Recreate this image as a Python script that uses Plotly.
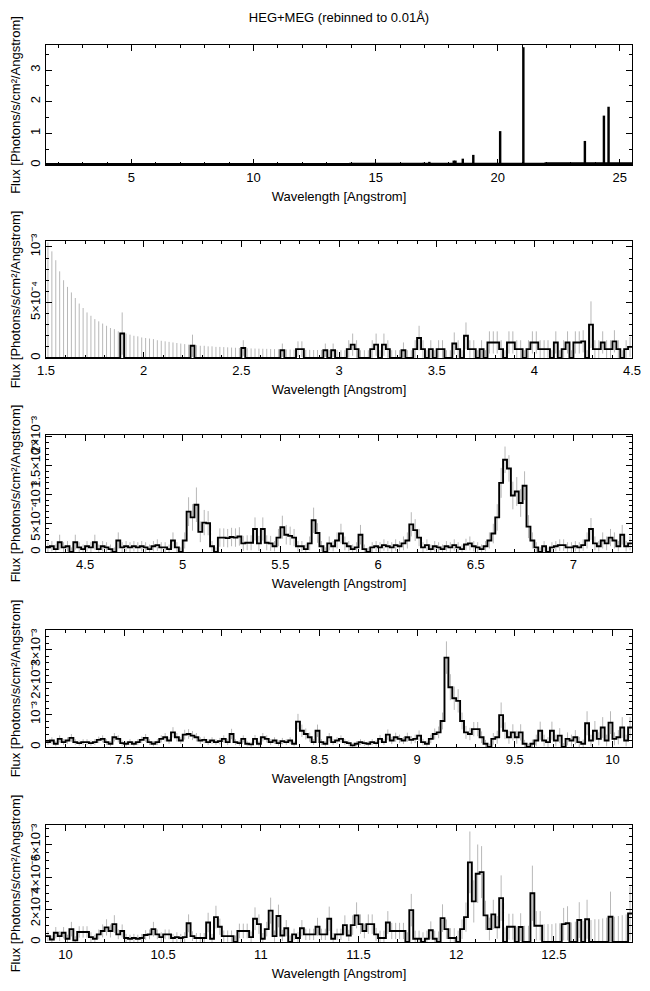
import numpy as np
import plotly.graph_objects as go
from plotly.subplots import make_subplots

BIN = 0.02  # bin width (Angstrom) used for the zoomed panels

# ---- panel 1: whole band, strongest lines (photons/s/cm2/A)
line_wave = [16.83, 16.97, 17.2, 18.2, 18.27, 18.57, 19.0, 20.1, 21.05, 23.57, 24.35, 24.54]
line_flux = [0.06, 0.07, 0.1, 0.14, 0.14, 0.2, 0.32, 1.07, 3.72, 0.76, 1.56, 1.84]
cont_wave = [1.5, 6.0, 10.0, 14.0, 18.0, 22.0, 25.5]
cont_flux = [0.002, 0.001, 0.003, 0.005, 0.01, 0.02, 0.02]

# ---- zoomed panels: flux and upper error per bin, in units of 1e-4
flux_2 = [0, 0, 0, 0, 0, 0, 0, 0, 0, 0,
          0, 0, 0, 0, 0, 0, 0, 0, 0, 2.2,
          0, 0, 0, 0, 0, 0, 0, 0, 0, 0,
          0, 0, 0, 0, 0, 0, 0, 1.1, 0, 0,
          0, 0, 0, 0, 0, 0, 0, 0, 0, 0,
          0.9, 0, 0, 0, 0, 0, 0, 0, 0, 0,
          0.7, 0, 0, 0, 0.8, 0.8, 0, 0, 0, 0,
          0, 0.7, 0, 0.7, 0, 0, 0, 0.8, 1.2, 0.8,
          0, 0, 0, 0.8, 1.2, 0, 1.2, 0.8, 0, 0,
          0, 0.7, 0, 0, 0.8, 1.8, 0.8, 0, 0.8, 0,
          0.8, 0.8, 0, 0, 1.3, 0.8, 0, 2.0, 0.8, 0.8,
          0, 0.8, 0, 1.4, 1.4, 1.4, 0.8, 0, 1.4, 1.4,
          0.8, 0.8, 0, 0.8, 1.4, 1.4, 0.8, 0.8, 0.8, 0,
          1.4, 0, 0.8, 1.4, 0, 1.4, 1.4, 1.5, 0, 3.0,
          0.8, 0.8, 1.4, 0.8, 0.8, 1.5, 0.8, 0, 0.8, 1.0]
err_2 = [10.4, 9.6, 8.8, 7.8, 7.0, 6.4, 5.9, 5.4, 4.9, 4.5,
         4.1, 3.8, 3.5, 3.3, 3.1, 2.9, 2.7, 2.6, 2.4, 1.9,
         2.2, 2.1, 2.0, 1.95, 1.85, 1.8, 1.75, 1.7, 1.6, 1.55,
         1.5, 1.45, 1.4, 1.35, 1.3, 1.25, 1.2, 1.0, 1.15, 1.1,
         1.1, 1.05, 1.05, 1.0, 1.0, 0.98, 0.96, 0.94, 0.92, 0.9,
         0.7, 0.88, 0.86, 0.85, 0.84, 0.83, 0.82, 0.81, 0.8, 0.79,
         0.6, 0.77, 0.76, 0.75, 0.7, 0.7, 0.73, 0.73, 0.72, 0.72,
         0.72, 0.6, 0.71, 0.6, 0.71, 0.7, 0.7, 0.8, 1.0, 0.8,
         0.7, 0.7, 0.7, 0.8, 1.0, 0.7, 1.0, 0.8, 0.7, 0.7,
         0.7, 0.7, 0.7, 0.7, 0.8, 1.1, 0.8, 0.7, 0.8, 0.7,
         0.8, 0.8, 0.7, 0.7, 1.0, 0.8, 0.7, 1.2, 0.8, 0.8,
         0.7, 0.8, 0.7, 1.0, 1.0, 1.0, 0.8, 0.7, 1.0, 1.0,
         0.8, 0.8, 0.7, 0.8, 1.0, 1.0, 0.8, 0.8, 0.8, 0.7,
         1.0, 0.7, 0.8, 1.0, 0.7, 1.0, 1.0, 1.0, 0.7, 2.1,
         0.8, 0.8, 1.0, 0.8, 0.8, 1.0, 0.8, 0.7, 0.8, 0.9]

flux_3 = [0.8, 1.0, 0.5, 1.7, 0.8, 1.0, 0, 1.7, 0.8, 0.5,
          1.0, 0.8, 1.7, 0.5, 1.0, 0.8, 0.5, 0, 2.0, 0.8,
          1.0, 0.8, 1.0, 0.8, 1.0, 0.8, 0.5, 1.0, 1.2, 0.8,
          0.8, 0.5, 2.0, 0.8, 0, 2.0, 7.0, 6.0, 8.2, 3.5,
          5.1, 5.0, 1.0, 0, 2.5, 2.5, 2.4, 2.6, 2.5, 2.7,
          1.5, 1.6, 1.6, 4.0, 1.5, 4.0, 1.6, 1.5, 1.0, 2.5,
          4.3, 3.0, 2.8, 2.5, 1.0, 1.0, 0.5, 1.5, 5.5, 3.3,
          1.0, 0, 1.5, 1.0, 2.0, 3.2, 1.5, 1.0, 0.5, 0.8,
          3.0, 0.5, 0, 0.8, 1.0, 0.8, 1.2, 1.0, 0.8, 1.2,
          1.0, 1.5, 2.0, 4.8, 3.8, 2.5, 0.8, 1.2, 0.5, 1.0,
          0.8, 0.5, 1.0, 0.8, 1.2, 0.8, 0.5, 1.3, 1.5, 1.0,
          0.8, 0.5, 1.0, 2.0, 3.2, 6.0, 12.0, 16.0, 14.5, 9.8,
          10.5, 8.5, 11.5, 4.4, 2.0, 0.8, 0, 1.0, 0, 0.8,
          1.0, 1.2, 1.2, 0.8, 0.8, 1.0, 0.8, 1.2, 2.0, 4.0,
          1.5, 1.0, 2.0, 1.5, 2.5, 2.0, 1.0, 3.0, 1.0, 1.5]
err_3 = [0.9, 0.9, 0.8, 1.3, 0.9, 0.9, 0.8, 1.3, 0.9, 0.8,
         0.9, 0.9, 1.3, 0.8, 0.9, 0.9, 0.8, 0.8, 1.4, 0.9,
         0.9, 0.9, 0.9, 0.9, 0.9, 0.9, 0.8, 0.9, 1.0, 0.9,
         0.9, 0.8, 1.4, 0.9, 0.8, 1.4, 2.5, 2.3, 3.0, 1.8,
         2.2, 2.1, 0.9, 0.8, 1.6, 1.6, 1.6, 1.6, 1.6, 1.6,
         1.3, 1.3, 1.3, 2.0, 1.3, 2.0, 1.3, 1.3, 0.9, 1.5,
         2.0, 1.7, 1.6, 1.5, 0.9, 0.9, 0.8, 1.2, 2.2, 1.7,
         0.9, 0.8, 1.2, 0.9, 1.4, 1.7, 1.2, 0.9, 0.8, 0.9,
         1.7, 0.8, 0.8, 0.9, 0.9, 0.9, 1.0, 0.9, 0.9, 1.0,
         0.9, 1.2, 1.4, 2.1, 1.9, 1.5, 0.9, 1.0, 0.8, 0.9,
         0.9, 0.8, 0.9, 0.9, 1.0, 0.9, 0.8, 1.0, 1.2, 0.9,
         0.9, 0.8, 0.9, 1.4, 1.7, 2.3, 2.6, 2.3, 2.3, 2.4,
         2.5, 2.4, 2.5, 2.0, 1.4, 0.9, 0.8, 0.9, 0.8, 0.9,
         0.9, 1.0, 1.0, 0.9, 0.9, 0.9, 0.9, 1.0, 1.4, 1.9,
         1.2, 0.9, 1.4, 1.2, 1.5, 1.4, 0.9, 1.7, 0.9, 1.2]

flux_4 = [1.5, 2.0, 1.0, 2.5, 1.5, 2.0, 2.8, 1.5, 1.2, 1.5,
          1.5, 1.2, 1.5, 2.2, 2.5, 1.5, 1.0, 3.0, 2.5, 1.2,
          1.0, 1.5, 1.0, 1.5, 2.2, 2.8, 1.5, 1.0, 1.5, 2.5,
          3.0, 2.0, 4.5, 3.0, 2.0, 3.8, 4.0, 3.5, 3.0, 2.0,
          2.2, 1.5, 2.0, 1.5, 1.8, 2.5, 1.5, 4.0, 1.5, 1.2,
          2.5, 1.0, 0.8, 2.5, 1.0, 3.0, 2.5, 1.5, 2.0, 1.2,
          1.8, 1.5, 2.0, 1.0, 7.8, 5.0, 4.0, 3.0, 1.5, 5.0,
          1.5, 1.0, 3.0, 1.5, 2.0, 2.5, 1.5, 1.2, 0.5, 1.0,
          1.5, 1.2, 1.0, 1.5, 1.2, 2.5, 1.5, 3.8, 2.0, 3.0,
          2.5, 2.0, 3.0, 2.2, 2.5, 3.5, 1.5, 1.0, 2.5, 4.0,
          4.5, 8.0, 27.5, 18.4, 15.0, 14.2, 8.0, 4.5, 4.0, 5.5,
          5.5, 3.0, 1.0, 0, 2.5, 3.0, 9.8, 5.0, 3.0, 4.5,
          3.0, 4.5, 1.0, 0, 1.0, 2.0, 5.0, 2.0, 1.5, 5.0,
          2.0, 3.5, 0, 2.5, 2.0, 3.0, 1.5, 1.0, 7.3, 2.0,
          5.0, 2.5, 6.0, 2.0, 7.5, 2.5, 3.0, 6.0, 2.0, 6.0]
err_4 = [0.9, 1.0, 0.8, 1.1, 0.9, 1.0, 1.2, 0.9, 0.8, 0.9,
         0.9, 0.8, 0.9, 1.0, 1.1, 0.9, 0.8, 1.3, 1.1, 0.8,
         0.8, 0.9, 0.8, 0.9, 1.0, 1.2, 0.9, 0.8, 0.9, 1.1,
         1.3, 1.0, 1.6, 1.3, 1.0, 1.5, 1.5, 1.4, 1.3, 1.0,
         1.0, 0.9, 1.0, 0.9, 1.0, 1.1, 0.9, 1.6, 0.9, 0.8,
         1.1, 0.8, 0.8, 1.2, 0.8, 1.3, 1.1, 0.9, 1.0, 0.8,
         1.0, 0.9, 1.0, 0.8, 2.4, 1.9, 1.7, 1.4, 0.9, 1.9,
         0.9, 0.8, 1.3, 0.9, 1.0, 1.1, 0.9, 0.8, 0.7, 0.8,
         0.9, 0.8, 0.8, 0.9, 0.8, 1.2, 0.9, 1.6, 1.1, 1.4,
         1.3, 1.1, 1.4, 1.2, 1.3, 1.6, 1.0, 0.9, 1.3, 1.7,
         1.8, 2.6, 5.0, 4.0, 3.6, 3.6, 2.6, 2.0, 1.9, 2.2,
         2.2, 1.8, 1.2, 1.0, 1.8, 2.0, 3.9, 2.6, 2.0, 2.5,
         2.0, 2.5, 1.2, 1.0, 1.3, 1.8, 2.8, 1.8, 1.5, 2.8,
         1.8, 2.3, 1.2, 2.0, 1.8, 2.2, 1.6, 1.3, 3.7, 1.8,
         3.0, 2.0, 3.2, 1.8, 3.5, 2.0, 2.2, 3.2, 1.8, 3.2]

flux_5 = [3.6, 1.5, 5.7, 3.6, 5.7, 2.0, 7.9, 1.0, 6.2, 6.2,
          6.2, 3.0, 2.0, 4.7, 6.8, 9.0, 6.8, 11.0, 4.7, 6.8,
          2.5, 2.0, 2.5, 2.0, 2.5, 4.3, 4.7, 7.9, 4.7, 3.0,
          4.7, 4.7, 2.5, 3.0, 2.5, 3.0, 11.5, 3.6, 2.5, 2.5,
          2.5, 12.0, 2.0, 15.3, 9.4, 3.6, 3.6, 3.6, 0, 6.8,
          6.8, 6.8, 3.0, 14.3, 11.0, 2.0, 7.9, 19.3, 3.6, 16.0,
          4.0, 8.5, 0, 4.7, 2.5, 8.5, 4.7, 4.7, 4.7, 9.4,
          4.7, 4.7, 14.3, 2.0, 4.7, 4.7, 10.4, 4.0, 10.4, 16.4,
          11.0, 6.8, 11.0, 11.0, 4.7, 2.5, 2.5, 12.0, 6.8, 6.8,
          6.8, 6.8, 0, 19.6, 2.0, 2.0, 0, 2.0, 7.2, 2.0,
          0, 14.7, 7.9, 2.5, 2.5, 0, 7.9, 15.3, 49.0, 25.0,
          42.0, 43.0, 16.4, 8.0, 17.0, 9.0, 27.0, 0, 9.4, 9.4,
          0, 9.2, 0, 0, 30.0, 10.0, 10.0, 0, 0, 0,
          0, 0, 11.0, 11.5, 0, 0, 13.5, 0, 14.0, 0,
          0, 0, 0, 0, 15.5, 0, 0, 0, 0, 17.5]
err_5 = [3.0, 2.5, 3.5, 3.0, 3.5, 2.5, 4.5, 2.5, 3.5, 3.5,
         3.5, 3.0, 2.5, 3.0, 4.0, 5.0, 4.0, 5.5, 3.0, 4.0,
         2.5, 2.5, 2.5, 2.5, 2.5, 3.0, 3.0, 4.5, 3.0, 3.0,
         3.0, 3.0, 2.5, 3.0, 2.5, 3.0, 5.5, 3.0, 3.0, 3.0,
         3.0, 6.0, 3.0, 7.0, 5.0, 3.5, 3.5, 3.5, 4.0, 4.5,
         4.5, 4.5, 3.5, 7.0, 6.0, 3.5, 4.5, 8.0, 3.5, 7.0,
         3.5, 5.0, 4.0, 3.5, 3.5, 5.0, 3.5, 3.5, 3.5, 5.5,
         3.5, 3.5, 7.5, 3.5, 3.5, 3.5, 6.0, 3.5, 6.0, 8.0,
         6.0, 4.5, 6.0, 6.0, 4.0, 4.5, 4.5, 7.0, 5.0, 5.0,
         5.0, 5.0, 6.0, 10.0, 5.0, 5.0, 6.0, 5.0, 5.5, 5.0,
         6.5, 8.5, 6.0, 6.0, 6.0, 7.0, 6.0, 9.0, 19.0, 13.0,
         18.0, 16.0, 9.0, 7.0, 9.0, 7.0, 14.0, 9.0, 8.0, 8.0,
         9.5, 8.5, 10.0, 10.0, 17.0, 9.0, 9.0, 11.0, 11.0, 11.0,
         11.5, 11.5, 10.0, 10.5, 12.0, 12.5, 11.0, 13.0, 12.0, 13.5,
         14.0, 14.0, 14.5, 15.0, 15.5, 15.5, 16.0, 16.5, 17.0, 16.5]

# y tick labels
ticks_1 = [0, 1, 2, 3]
ticks_2 = ["0", "5×10⁻⁴", "10⁻³"]
ticks_3 = ["0", "5×10⁻⁴", "10⁻³", "1.5×10⁻³", "2×10⁻³"]
ticks_4 = ["0", "10⁻³", "2×10⁻³", "3×10⁻³"]
ticks_5 = ["0", "2×10⁻³", "4×10⁻³", "6×10⁻³"]

FONT = "Liberation Sans"
W, H = 650, 991
PAD = 8  # page body margin around the figure
# page-pixel top/bottom of each frame, and left/right edges
frames = [(45, 165), (241, 358), (435, 552), (630, 747), (825, 942)]
LEFT, RIGHT = 46, 632

fig = make_subplots(rows=5, cols=1)

# panel 1
fig.add_trace(go.Scatter(x=cont_wave, y=cont_flux, mode="lines", line_shape="hv",
                         line=dict(color="black", width=4)), row=1, col=1)
fig.add_trace(go.Bar(x=line_wave, y=line_flux, width=0.1, marker_color="black",
                     marker_line_width=0), row=1, col=1)

zoomed = [
    # row, start, flux, err, y top (1e-4), tick values (1e-4), tick text, minor (1e-4)
    (2, 1.5, flux_2, err_2, 10.53, [0, 5, 10], ticks_2, 1),
    (3, 4.3, flux_3, err_3, 20.3, [0, 5, 10, 15, 20], ticks_3, 1),
    (4, 7.1, flux_4, err_4, 36.0, [0, 10, 20, 30], ticks_4, 2),
    (5, 9.9, flux_5, err_5, 72.0, [0, 20, 40, 60], ticks_5, 5),
]

for row, start, flux, err, ytop, tv, tt, minor in zoomed:
    f = np.array(flux) * 1e-4
    e = np.array(err) * 1e-4
    n = len(f)
    centers = start + BIN * (np.arange(n) + 0.5)
    edges = start + BIN * np.arange(n + 1)
    # error bars first so the histogram sits on top
    fig.add_trace(go.Scatter(x=centers, y=f, mode="markers", marker=dict(size=2, opacity=0),
                             error_y=dict(type="data", array=e, arrayminus=np.minimum(e, f),
                                          color="#b8b8b8", thickness=1, width=0)),
                  row=row, col=1)
    fig.add_trace(go.Scatter(x=edges, y=np.append(f, f[-1]), mode="lines", line_shape="hv",
                             line=dict(color="black", width=1.9)), row=row, col=1)
    fig.update_xaxes(range=[start, start + 3.0], dtick=0.5, tick0=0,
                     minor=dict(dtick=0.1, tick0=0), row=row, col=1)
    fig.update_yaxes(range=[0, ytop * 1e-4], tickvals=[v * 1e-4 for v in tv], ticktext=tt,
                     minor=dict(dtick=minor * 1e-4, tick0=0), row=row, col=1)

fig.update_xaxes(range=[1.5, 25.5], dtick=5, tick0=0, minor=dict(dtick=1, tick0=0), row=1, col=1)
fig.update_yaxes(range=[0, 3.79], tickvals=ticks_1, ticktext=[str(t) for t in ticks_1],
                 minor=dict(dtick=0.5, tick0=0), row=1, col=1)

for i, (top, bot) in enumerate(frames):
    fig.update_yaxes(domain=[1 - (bot - PAD) / H, 1 - (top - PAD) / H], row=i + 1, col=1)

fig.update_xaxes(showline=True, mirror="allticks", linecolor="black", linewidth=1,
                 ticks="inside", ticklen=6, tickcolor="black", showgrid=False, zeroline=False,
                 minor_ticks="inside", minor_ticklen=3, minor_tickcolor="black",
                 automargin=False, ticklabeloverflow="allow",
                 title_text="Wavelength [Angstrom]", title_standoff=8,
                 tickfont=dict(size=13), title_font=dict(size=13))
fig.update_yaxes(showline=True, mirror="allticks", linecolor="black", linewidth=1,
                 ticks="inside", ticklen=6, tickcolor="black", showgrid=False, zeroline=False,
                 minor_ticks="inside", minor_ticklen=3, minor_tickcolor="black",
                 automargin=False, ticklabeloverflow="allow",
                 tickangle=-90, title_text="Flux [Photons/s/cm²/Angstrom]", title_standoff=6,
                 tickfont=dict(size=13), title_font=dict(size=13))

fig.update_layout(
    width=W, height=H,
    margin=dict(l=LEFT - PAD, r=W - (RIGHT - PAD), t=0, b=0, autoexpand=False),
    plot_bgcolor="white", paper_bgcolor="white",
    font=dict(family=FONT, color="black", size=13),
    showlegend=False,
    title=dict(text="HEG+MEG (rebinned to 0.01Å)", x=0.5, xref="paper",
               y=1 - (17 - PAD) / H, yanchor="middle", font=dict(size=13)),
)

fig.write_html("out.html")
